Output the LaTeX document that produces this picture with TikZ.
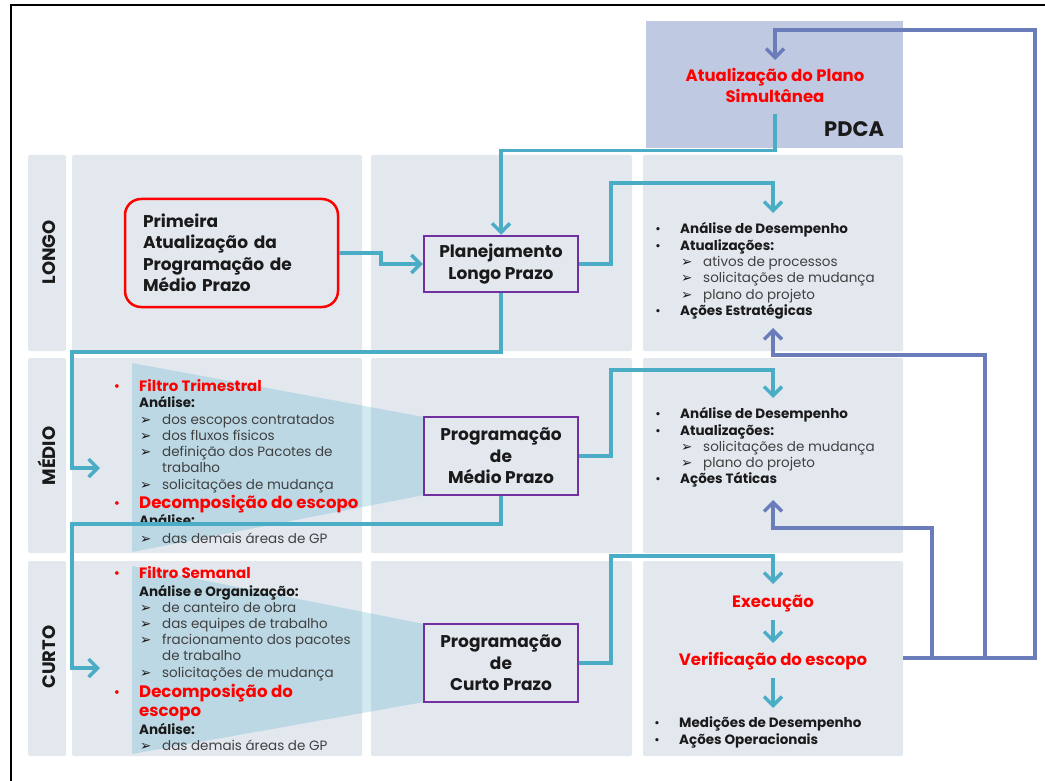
\documentclass[tikz,border=0pt]{standalone}
\usepackage{fontspec}
\setmainfont{Poppins}
\newfontfamily\symfont{DejaVu Sans}
\usetikzlibrary{arrows.meta}

\definecolor{panelgrey}{HTML}{E3E8EF}
\definecolor{pdcablue}{HTML}{BFC9E1}
\definecolor{flowteal}{HTML}{4BACC6}
\definecolor{loopblue}{HTML}{6A7DBA}
\definecolor{boxpurple}{HTML}{7030A0}
\definecolor{itemgrey}{HTML}{404040}
\definecolor{hired}{HTML}{FF0000}
\definecolor{inkblack}{HTML}{1A1A1A}

\newcommand{\fs}[1]{\fontsize{#1pt}{#1pt}\selectfont}

% arrowhead item: symbol, then grey text
\newcommand{\subline}[4]{%
  \node[subsym] (#1s) at (#2,#3) {➢};
  \node[item] (#1) at ({#2+22},#3) {#4};}
% black bullet item
\newcommand{\bulline}[4]{%
  \node[blt] (#1b) at (#2,#3) {•};
  \node[head] (#1) at ({#2+22},#3) {#4};}
% red bullet item
\newcommand{\redbulline}[5]{%
  \node[redblt] (#1b) at (#2,#3) {•};
  \node[redhead, font=\fs{#4}\bfseries] (#1) at ({#2+22},#3) {#5};}

\begin{document}
\begin{tikzpicture}[x=1pt,y=-1pt,
  panel/.style={fill=panelgrey, rounded corners=2pt},
  funnel/.style={fill=flowteal, fill opacity=0.25},
  txt/.style={anchor=base west, inner sep=0pt},
  head/.style={txt, font=\fs{13.5}\bfseries, text=inkblack},
  item/.style={txt, font=\fs{13.5}, text=itemgrey},
  redhead/.style={txt, text=hired},
  subsym/.style={txt, font=\symfont\fs{13.5}, text=inkblack},
  blt/.style={anchor=base, inner sep=0pt, font=\fs{13}, text=inkblack},
  redblt/.style={anchor=base, inner sep=0pt, font=\fs{15}, text=hired},
  redcenter/.style={anchor=base, inner sep=0pt, font=\fs{16.5}\bfseries, text=hired},
  rowlabel/.style={anchor=base, inner sep=0pt, rotate=90, font=\fs{18}\bfseries, text=inkblack},
  progbox/.style={draw=boxpurple, line width=2.5pt, fill=panelgrey, minimum width=154pt,
    align=center, inner sep=0pt, font=\fontsize{17pt}{21.5pt}\selectfont\bfseries, text=inkblack},
  startbox/.style={draw=hired, line width=2.5pt, fill=panelgrey, rounded corners=16pt,
    minimum width=213pt, minimum height=108pt, inner xsep=18pt, text width=177pt,
    align=left, font=\fontsize{17pt}{21.5pt}\selectfont\bfseries, text=inkblack},
  pdcabox/.style={fill=pdcablue, minimum width=257pt, minimum height=127pt, inner sep=0pt},
  tealflow/.style={draw=flowteal, line width=3.5pt},
  tealarrow/.style={tealflow, -{Straight Barb[length=9pt,width=18pt]}},
  loopflow/.style={draw=loopblue, line width=3.5pt},
  looparrow/.style={loopflow, -{Straight Barb[length=9pt,width=18pt]}}
]
\useasboundingbox (0,0) rectangle (1045,781);
\fill[white] (0,0) rectangle (1045,781);
\draw[line width=2pt] (10.5,5.5) rectangle (1080,800);

% lane backgrounds
\foreach \ya/\yb in {155/351, 358/553, 561/756} {
  \fill[panel] (28,\ya) rectangle (66,\yb);
  \fill[panel] (72,\ya) rectangle (362,\yb);
  \fill[panel] (371,\ya) rectangle (632,\yb);
  \fill[panel] (643,\ya) rectangle (903,\yb);
}

% PDCA block
\node[pdcabox] (pdca) at (774.5,84.5) {};
\node[redcenter] (upd) at (775,82) {Atualização do Plano};
\node[redcenter] (upd2) at (775,102.5) {Simultânea};
\node[txt, font=\fs{21}\bfseries, text=inkblack] (pdcaname) at (824,137) {PDCA};

% lane titles
\node[rowlabel] (laneL) at (55,252.5) {LONGO};
\node[rowlabel] (laneM) at (55,456) {MÉDIO};
\node[rowlabel] (laneC) at (55,657) {CURTO};

% funnels feeding the programming boxes
\fill[funnel] (132,363) -- (424,417) -- (424,495) -- (132,552) -- cycle;
\fill[funnel] (132,566) -- (424,624) -- (424,702) -- (132,754) -- cycle;

% long-term lane
\node[startbox] (primeira) at (231.5,253) {Primeira\\Atualização da\\Programação de\\Médio Prazo};
\node[progbox, minimum height=56pt] (plan) at (501,264) {Planejamento\\Longo Prazo};
\bulline{la}{658}{233.5}{Análise de Desempenho}
\bulline{lb}{658}{250}{Atualizações:}
\subline{lc}{681}{266}{ativos de processos}
\subline{ld}{681}{282.5}{solicitações de mudança}
\subline{le}{681}{299}{plano do projeto}
\bulline{lf}{658}{315}{Ações Estratégicas}

% medium-term lane
\redbulline{ma}{117}{391}{15}{Filtro Trimestral}
\node[head] (mb) at (139,407) {Análise:};
\subline{mc}{140}{424}{dos escopos contratados}
\subline{md}{140}{440}{dos fluxos físicos}
\subline{me}{140}{456}{definição dos Pacotes de}
\node[item] (mf) at (162,472.5) {trabalho};
\subline{mg}{140}{489}{solicitações de mudança}
\redbulline{mh}{117}{508}{16.6}{Decomposição do escopo}
\node[head] (mi) at (139,525) {Análise:};
\subline{mj}{140}{543}{das demais áreas de GP}
\node[progbox, minimum height=78pt] (progm) at (501,456) {Programação\\de\\Médio Prazo};
\bulline{na}{658}{418}{Análise de Desempenho}
\bulline{nb}{658}{435}{Atualizações:}
\subline{nc}{681}{451}{solicitações de mudança}
\subline{nd}{681}{467}{plano do projeto}
\bulline{ne}{658}{483}{Ações Táticas}

% short-term lane
\redbulline{ca}{117}{578}{15}{Filtro Semanal}
\node[head] (cb) at (139,596) {Análise e Organização:};
\subline{cc}{140}{612}{de canteiro de obra}
\subline{cd}{140}{628}{das equipes de trabalho}
\subline{ce}{140}{644}{fracionamento dos pacotes}
\node[item] (cf) at (162,660) {de trabalho};
\subline{cg}{140}{677}{solicitações de mudança}
\redbulline{ch}{117}{697}{16.6}{Decomposição do}
\node[redhead, font=\fs{16.6}\bfseries] (ci) at (139,716.5) {escopo};
\node[head] (cj) at (139,734) {Análise:};
\subline{ck}{140}{750}{das demais áreas de GP}
\node[progbox, minimum height=78pt] (progc) at (501,663) {Programação\\de\\Curto Prazo};
\node[redcenter] (exec) at (773,607) {Execução};
\node[redcenter] (verif) at (773,665) {Verificação do escopo};
\bulline{oa}{657}{727}{Medições de Desempenho}
\bulline{ob}{657}{744}{Ações Operacionais}

% connector ends
\coordinate (pdcaout) at (775,114);
\coordinate (pdcain) at (775,60);
\coordinate (inM) at (100,468);
\coordinate (inC) at (100,668);
\coordinate (outL) at (773,213);
\coordinate (outM) at (773,398);
\coordinate (outC) at (773,584);
\coordinate (execout) at (773,620);
\coordinate (verifin) at (773,643);
\coordinate (verifout) at (773,678);
\coordinate (resin) at (773,708);
\coordinate (loopstart) at (903,658);
\coordinate (brM) at (932,658);
\coordinate (brL) at (985,658);
\coordinate (fbM) at (773,500);
\coordinate (fbL) at (773,328);

% teal flow
\draw[tealarrow] (primeira.east) -| (381,264) -- (plan.west);
\draw[tealarrow] (pdcaout) -- (775,150.5) -| (plan.north);
\draw[tealarrow] (plan.south) |- (72,352) |- (inM);
\draw[tealarrow] (plan.east) -| (611,183) -| (outL);
\draw[tealarrow] (progm.south) |- (72,524) |- (inC);
\draw[tealarrow] (progm.east) -| (611,370) -| (outM);
\draw[tealarrow] (progc.east) -| (611,556) -| (outC);
\draw[tealarrow] (execout) -- (verifin);
\draw[tealarrow] (verifout) -- (resin);

% feedback loops
\draw[looparrow] (loopstart) -| (1035,30) -| (pdcain);
\draw[looparrow] (brM) -- (932,528) -| (fbM);
\draw[looparrow] (brL) -- (985,355) -| (fbL);
\end{tikzpicture}
\end{document}
